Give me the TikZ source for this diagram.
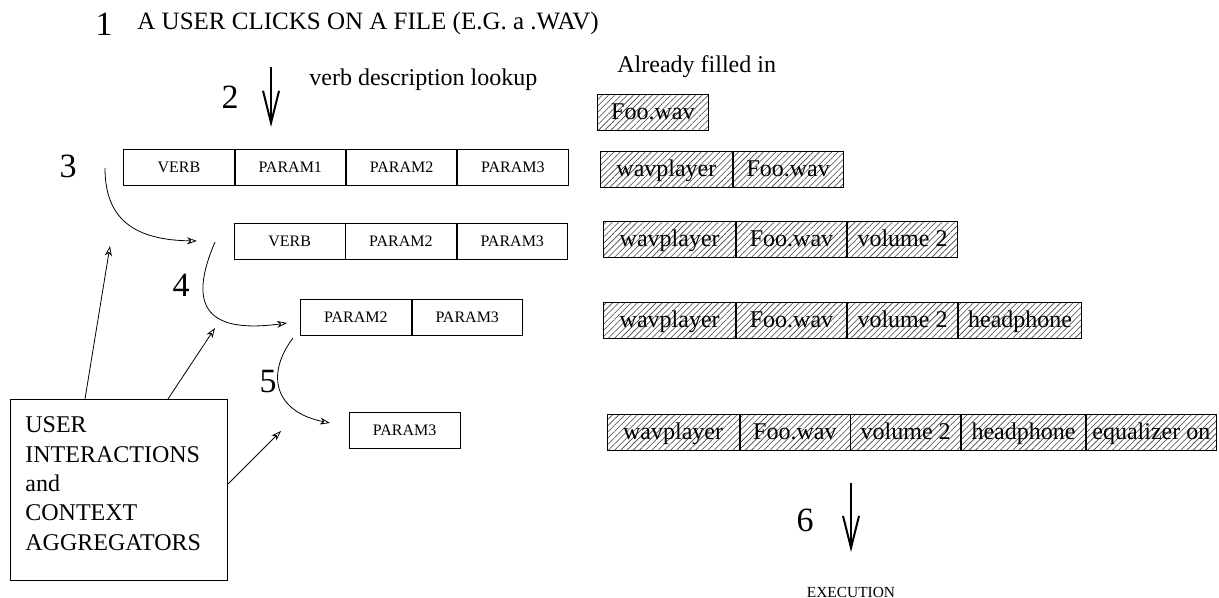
\documentclass[tikz,border=0pt]{standalone}
\usepackage{fontspec}
\setmainfont{Liberation Serif}
\usetikzlibrary{positioning, arrows.meta, patterns.meta}

\begin{document}
\begin{tikzpicture}[
  x=0.5pt, y=-0.5pt,
  slot/.style={draw, minimum width=55.25pt, minimum height=18pt, inner sep=0pt, font=\fontsize{8}{9}\selectfont},
  hatched/.style={draw, minimum height=18pt, inner sep=0pt, text height=8.5pt, text depth=1.3pt,
    font=\fontsize{12}{14}\selectfont,
    pattern={Lines[angle=45, distance=2.2pt, line width=0.3pt]}, pattern color=black!75},
  num/.style={font=\fontsize{17}{20}\selectfont},
  txt/.style={font=\fontsize{12}{14}\selectfont, inner sep=0pt},
  flow/.style={-{Stealth[open, length=5pt, width=3.5pt, inset=1.5pt]}, thin},
  bigarrow/.style={-{Straight Barb[length=16pt, width=8pt]}, line width=1pt}
]
\useasboundingbox (0,0) rectangle (1219,598);

% titles and step numbers
\node[num] (n1) at (104,24) {1};
\node[txt, anchor=base west, font=\fontsize{12.5}{14}\selectfont] (title) at (137,30) {A USER CLICKS ON A FILE (E.G. a .WAV)};
\node[num] (n2) at (230,97) {2};
\node[txt, anchor=base west] (lookup) at (309,86) {verb description lookup};
\node[txt, anchor=base west] (already) at (617,73) {Already filled in};
\coordinate (a2top) at (271,67);
\coordinate (a2tip) at (271,127);
\draw[bigarrow] (a2top) -- (a2tip);

% verb rows, shrinking
\node[slot, anchor=west] (r1v) at (123.3,167.5) {VERB};
\node[slot, right=0pt of r1v] (r1a) {PARAM1};
\node[slot, right=0pt of r1a] (r1b) {PARAM2};
\node[slot, right=0pt of r1b] (r1c) {PARAM3};

\node[slot, anchor=west] (r2v) at (234,241) {VERB};
\node[slot, right=0pt of r2v] (r2b) {PARAM2};
\node[slot, right=0pt of r2b] (r2c) {PARAM3};

\node[slot, anchor=west] (r3b) at (300.3,317) {PARAM2};
\node[slot, right=0pt of r3b] (r3c) {PARAM3};

\node[slot, anchor=west] (r4c) at (349,430.5) {PARAM3};

% filled in values
\node[hatched, minimum width=55.25pt, anchor=west] (f1a) at (597.3,112.5) {Foo.wav};

\node[hatched, minimum width=66pt, anchor=west] (f2a) at (600,169.5) {wavplayer};
\node[hatched, minimum width=55pt, right=0pt of f2a] (f2b) {Foo.wav};

\node[hatched, minimum width=66pt, anchor=west] (f3a) at (603.3,239.5) {wavplayer};
\node[hatched, minimum width=55pt, right=0pt of f3a] (f3b) {Foo.wav};
\node[hatched, minimum width=55.25pt, right=0pt of f3b] (f3c) {volume 2};

\node[hatched, minimum width=66pt, anchor=west] (f4a) at (603.3,320.5) {wavplayer};
\node[hatched, minimum width=55pt, right=0pt of f4a] (f4b) {Foo.wav};
\node[hatched, minimum width=55.25pt, right=0pt of f4b] (f4c) {volume 2};
\node[hatched, minimum width=61.5pt, right=0pt of f4c] (f4d) {headphone};

\node[hatched, minimum width=66pt, anchor=west] (f5a) at (606.7,432) {wavplayer};
\node[hatched, minimum width=55pt, right=0pt of f5a] (f5b) {Foo.wav};
\node[hatched, minimum width=55pt, right=0pt of f5b] (f5c) {volume 2};
\node[hatched, minimum width=62pt, right=0pt of f5c] (f5d) {headphone};
\node[hatched, minimum width=65pt, right=0pt of f5d] (f5e) {equalizer on};

% steps between the rows
\node[num] (n3) at (68,166) {3};
\node[num] (n4) at (181,285) {4};
\node[num] (n5) at (268,382) {5};
\coordinate (c3s) at (105,168);
\coordinate (c3e) at (197,241);
\coordinate (c4s) at (215,242);
\coordinate (c4e) at (287,323);
\coordinate (c5s) at (293,338);
\coordinate (c5e) at (330,423);
\draw[flow] (c3s) .. controls (105,220) and (135,240) .. (c3e);
\draw[flow] (c4s) .. controls (190,300) and (200,335) .. (c4e);
\draw[flow] (c5s) .. controls (265,375) and (275,412) .. (c5e);

% where the answers come from
\node[draw, anchor=north west, align=left, text width=93.7pt, inner xsep=7.5pt, inner ysep=8.8pt,
  font=\fontsize{12}{14.65}\selectfont] (ctx) at (10,399)
  {USER\\INTERACTIONS\\and\\CONTEXT\\AGGREGATORS\rule[-6.2pt]{0pt}{0pt}};
\coordinate (t1) at (110,246);
\coordinate (t2) at (215,328);
\coordinate (t3) at (281,431);
\draw[flow] ([xshift=37.5pt]ctx.north west) -- (t1);
\draw[flow] ([xshift=79pt]ctx.north west) -- (t2);
\draw[flow] ([yshift=3pt]ctx.east) -- (t3);

% run it
\node[num] (n6) at (805,520) {6};
\coordinate (a6top) at (851,483);
\coordinate (a6tip) at (851,552);
\draw[bigarrow] (a6top) -- (a6tip);
\node[font=\fontsize{7.7}{9}\selectfont, inner sep=0pt] (exec) at (851,592) {EXECUTION};
\end{tikzpicture}
\end{document}
